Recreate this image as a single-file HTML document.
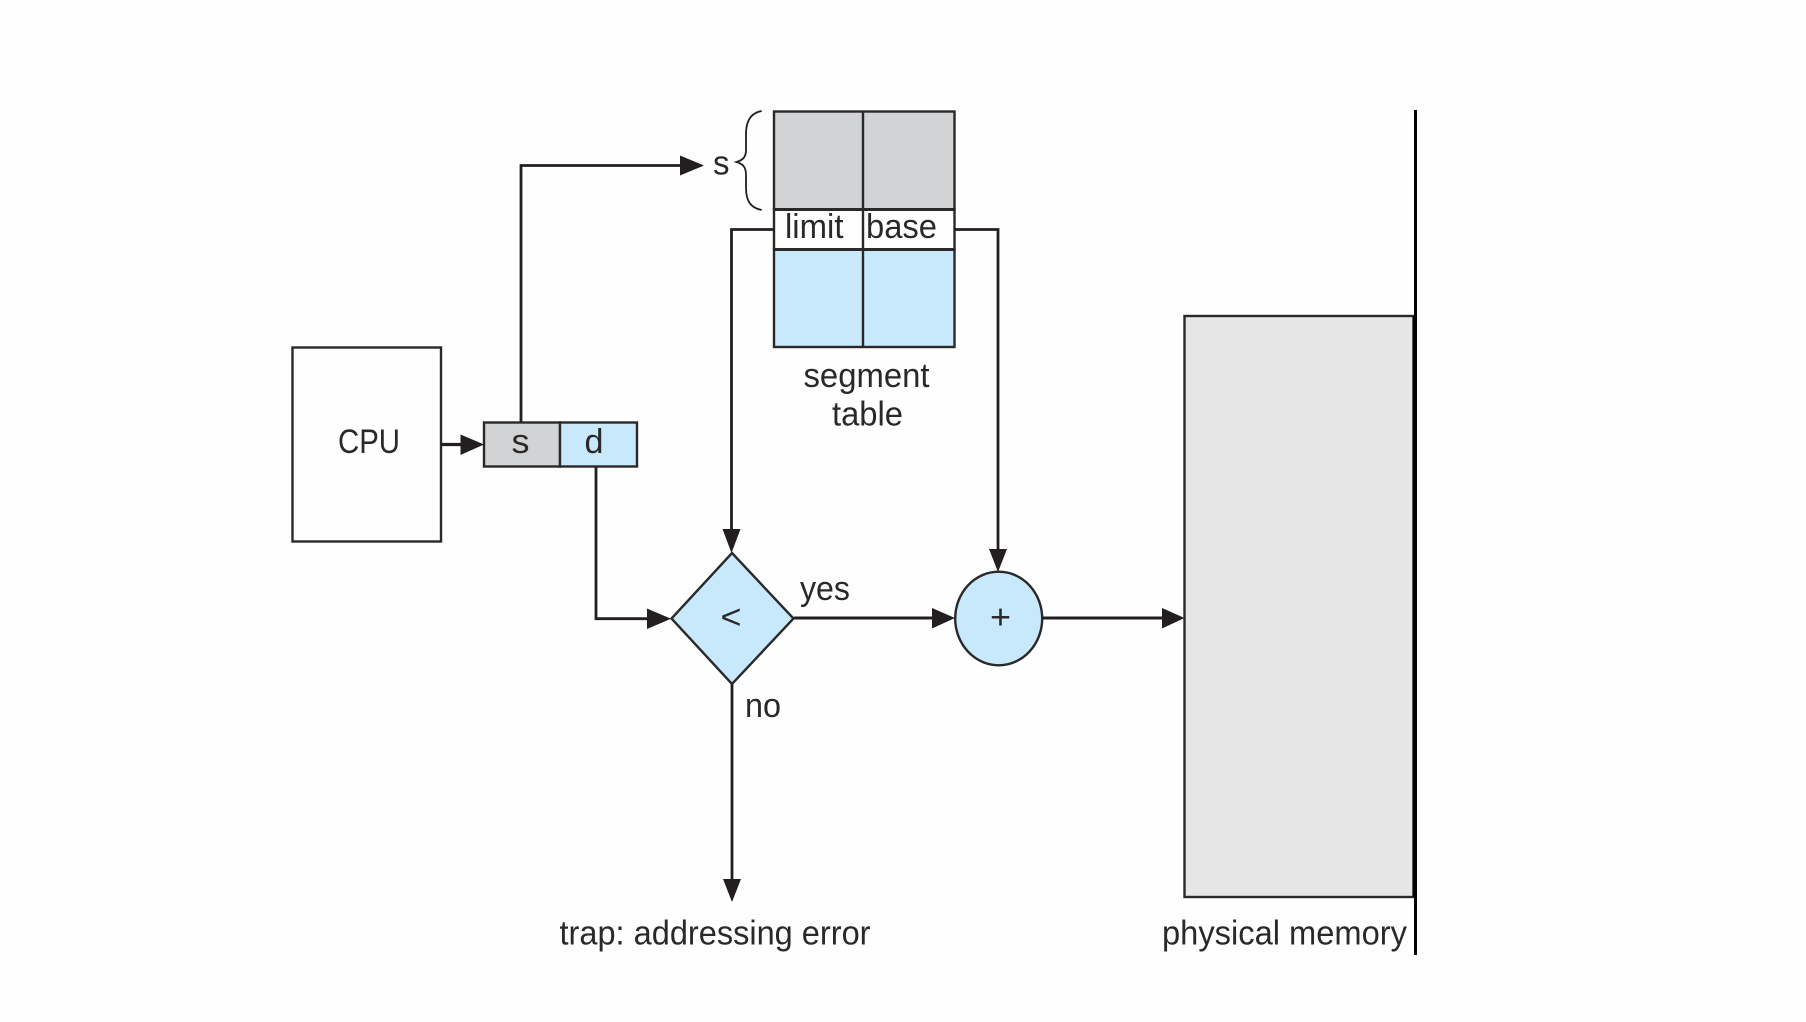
<!DOCTYPE html>
<html>
<head>
<meta charset="utf-8">
<style>
html,body{margin:0;padding:0;background:#fefefe;}
svg{display:block;}
text{font-family:"Liberation Sans",sans-serif;font-size:34px;fill:#2b2829;}
</style>
</head>
<body>
<svg width="1806" height="1022" viewBox="0 0 1806 1022" xmlns="http://www.w3.org/2000/svg">
<rect width="1806" height="1022" fill="#fefefe"/>
<g stroke="#2b2829" stroke-width="2.4" fill="none">
  <!-- Memory -->
  <rect x="1184.5" y="316" width="229" height="581" fill="#e6e6e6"/>
  <!-- Segment table -->
  <rect x="774" y="111.5" width="180.5" height="98" fill="#d1d3d4"/>
  <rect x="774" y="209.5" width="180.5" height="40" fill="#fefefe"/>
  <rect x="774" y="249.5" width="180.5" height="97.5" fill="#c7e9fb"/>
  <path d="M863 111.5V347"/>
  <path d="M774 209.5H954.5M774 249.5H954.5" stroke-width="3"/>
  <!-- CPU -->
  <rect x="292.5" y="347.5" width="148.5" height="194" fill="#fefefe"/>
  <!-- s d -->
  <rect x="484" y="422.5" width="76" height="44" fill="#d1d3d4"/>
  <rect x="560" y="422.5" width="77" height="44" fill="#c7e9fb"/>
  <!-- diamond -->
  <path d="M732 553L793.5 618.5L732 684L671.5 618.5Z" fill="#c7e9fb"/>
  <!-- circle -->
  <ellipse cx="998.7" cy="618.5" rx="43.5" ry="46.8" fill="#c7e9fb"/>
</g>
<g stroke="#231f20" fill="none">
  <path d="M521 422V165.5H684" stroke-width="2.8"/>
  <path d="M441 444.5H464" stroke-width="3.2"/>
  <path d="M774 229.5H731.5V532" stroke-width="2.8"/>
  <path d="M954 229.5H998V552" stroke-width="2.8"/>
  <path d="M596 467V618.7H650" stroke-width="2.8"/>
  <path d="M794 618H936" stroke-width="3"/>
  <path d="M1042 618H1166" stroke-width="3"/>
  <path d="M732 684V882" stroke-width="2.8"/>
  <path d="M1415.5 110V955" stroke="#000" stroke-width="3"/>
  <path d="M1413.5 316V897" stroke="#000" stroke-width="1.5"/>
  <!-- brace -->
  <path d="M761.7 111C750 113 746 122 746 134V150C746 157 743 160 736.5 162C743 164 746 167 746 175V188C746 200 750 208 761.7 210" stroke-width="1.8"/>
</g>
<g fill="#231f20">
  <path d="M680 155.5L704 165.5L680 175.5Z"/>
  <path d="M460.5 434.5L484 444.5L460.5 455Z"/>
  <path d="M722.5 529L740.5 529L731.5 553Z"/>
  <path d="M989 549L1007 549L998 572Z"/>
  <path d="M647 608.5L671 618.7L647 629Z"/>
  <path d="M932 608L955 618L932 628.5Z"/>
  <path d="M1162 608L1184.5 618L1162 628.5Z"/>
  <path d="M723 879L741 879L732 902Z"/>
</g>
<text x="338" y="453" textLength="62" lengthAdjust="spacingAndGlyphs">CPU</text>
<text x="511.5" y="453" textLength="18" lengthAdjust="spacingAndGlyphs">s</text>
<text x="584.5" y="453" textLength="19" lengthAdjust="spacingAndGlyphs">d</text>
<text x="713" y="174.5" textLength="16.5" lengthAdjust="spacingAndGlyphs">s</text>
<text x="785" y="238" textLength="58.5" lengthAdjust="spacingAndGlyphs">limit</text>
<text x="866" y="238" textLength="71" lengthAdjust="spacingAndGlyphs">base</text>
<text x="803.5" y="387" textLength="126" lengthAdjust="spacingAndGlyphs">segment</text>
<text x="832" y="425.5" textLength="71" lengthAdjust="spacingAndGlyphs">table</text>
<text x="800" y="600" textLength="50" lengthAdjust="spacingAndGlyphs">yes</text>
<text x="745" y="717" textLength="36" lengthAdjust="spacingAndGlyphs">no</text>
<text x="720.5" y="628.5" style="font-size:34px" textLength="21" lengthAdjust="spacingAndGlyphs">&lt;</text>
<text x="990" y="628.5" style="font-size:34px" textLength="21" lengthAdjust="spacingAndGlyphs">+</text>
<text x="559.5" y="944.5" textLength="311" lengthAdjust="spacingAndGlyphs">trap: addressing error</text>
<text x="1162" y="944.5" textLength="245" lengthAdjust="spacingAndGlyphs">physical memory</text>
</svg>
</body>
</html>
